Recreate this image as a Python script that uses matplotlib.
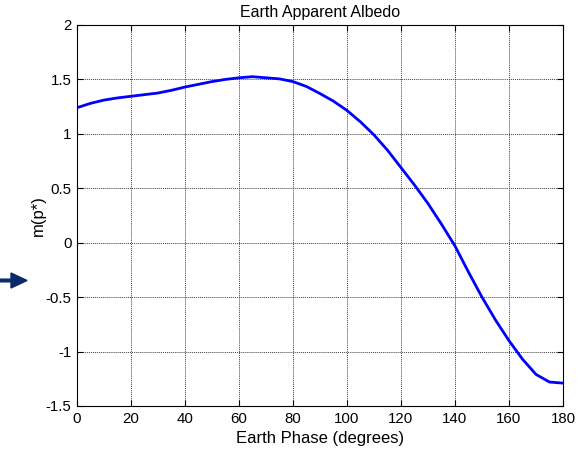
import numpy as np
import matplotlib.pyplot as plt
from matplotlib.patches import FancyArrow

plt.rcParams['font.family'] = ['Liberation Sans', 'DejaVu Sans']

# values
phase = [0, 5, 10, 15, 20, 25, 30, 35, 40, 45, 50, 55, 60, 65, 70, 75, 80, 85, 90,
         95, 100, 105, 110, 115, 120, 125, 130, 135, 140, 145, 150, 155, 160, 165,
         170, 175, 180]
mag = [1.24, 1.28, 1.31, 1.33, 1.345, 1.36, 1.375, 1.40, 1.43, 1.455, 1.48, 1.50,
       1.515, 1.525, 1.515, 1.505, 1.48, 1.435, 1.37, 1.30, 1.215, 1.11, 0.99, 0.85,
       0.69, 0.53, 0.36, 0.17, -0.03, -0.27, -0.50, -0.71, -0.90, -1.07, -1.21,
       -1.28, -1.29]
xticks = np.arange(0, 181, 20)
yticks = np.arange(-1.5, 2.01, 0.5)
yticklabels = ['-1.5', '-1', '-0.5', '0', '0.5', '1', '1.5', '2']

fig = plt.figure(figsize=(5.83, 4.51), dpi=100)
ax = fig.add_axes([0.132, 0.0998, 0.8337, 0.8448])

ax.plot(phase, mag, color='#0000ff', lw=2)
ax.set_xlim(0, 180)
ax.set_ylim(-1.5, 2)
ax.set_xticks(xticks)
ax.set_yticks(yticks)
ax.set_yticklabels(yticklabels)
ax.grid(True, color='0.25', linestyle=(0, (1, 1)), linewidth=0.7)
ax.tick_params(direction='in', top=True, right=True, labelsize=10.8, length=4, pad=4)
for s in ax.spines.values():
    s.set_linewidth(0.8)

ax.set_title('Earth Apparent Albedo', fontsize=11.5, pad=6)
ax.set_xlabel('Earth Phase (degrees)', fontsize=12, labelpad=4)
ax.set_ylabel('m(p*)', fontsize=12, labelpad=0)

# arrow at the left edge
arr = FancyArrow(0.0, 1 - 280.5 / 451, 27 / 583, 0, width=2.7 / 451,
                 head_width=15 / 451, head_length=16 / 583,
                 length_includes_head=True, color='#0b2a6b',
                 transform=fig.transFigure)
fig.patches.append(arr)

fig.savefig('out.png', dpi=100)
